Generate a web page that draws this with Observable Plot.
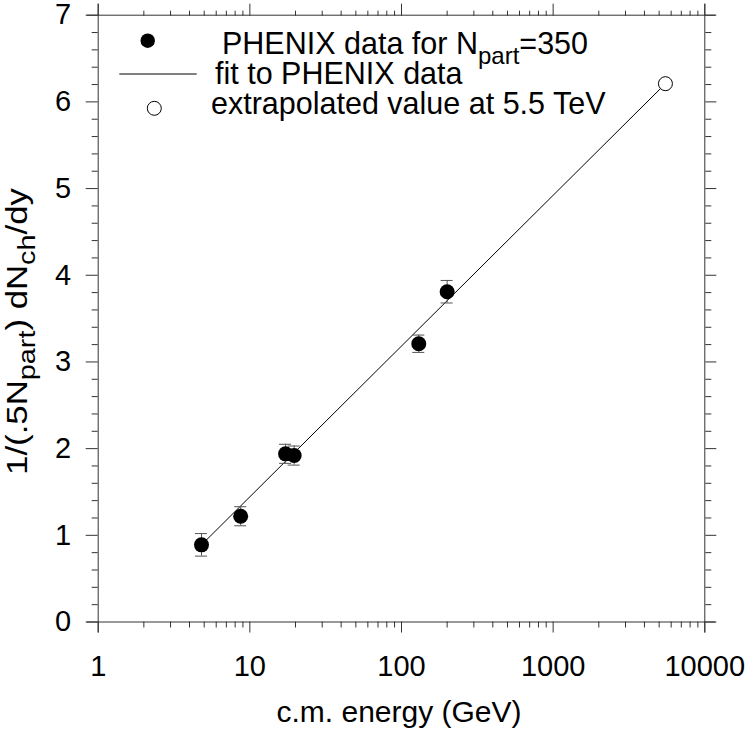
<!DOCTYPE html>
<html><head><meta charset="utf-8">
<script src="https://cdn.jsdelivr.net/npm/d3@7"></script>
<script src="https://cdn.jsdelivr.net/npm/@observablehq/plot@0.6"></script>
<style>body{margin:0;background:#fff;} svg{display:block}</style>
</head><body><div id="chart"></div>
<script>
// ---- data ----
const energy = [4.8, 8.7, 17.2, 19.6, 130, 200];          // sqrt(s) in GeV
const multiplicity = [0.89, 1.22, 1.94, 1.92, 3.21, 3.81];
const errors = [0.13, 0.11, 0.11, 0.11, 0.10, 0.13];
const extrapEnergy = [5500];
const extrapValue = [6.21];
const fitEnergy = [4.8, 5500];
const fitValue = [0.89, 6.21];
const xMajorTicks = [1, 10, 100, 1000, 10000];
const yMajorTicks = [0, 1, 2, 3, 4, 5, 6, 7];
const xDomain = [1, 10000];
const yDomain = [0, 7];

const xMinorTicks = [];
for (const d of [1, 10, 100, 1000]) for (let k = 2; k <= 9; k++) xMinorTicks.push(k * d);
const yMinorTicks = d3.range(0, 7.0001, 0.2).filter(v => Math.abs(v - Math.round(v)) > 1e-6);

const data = energy.map((e, i) => ({x: e, y: multiplicity[i], lo: multiplicity[i] - errors[i], hi: multiplicity[i] + errors[i]}));
const extrap = extrapEnergy.map((e, i) => ({x: e, y: extrapValue[i]}));
const fit = fitEnergy.map((e, i) => ({x: e, y: fitValue[i]}));

const FONT = "'Liberation Sans', Arial, Helvetica, sans-serif";
const ink = "#333";
const errInk = "#555";
const blank = () => "";

const plot = Plot.plot({
  width: 747, height: 732,
  marginLeft: 97.7, marginRight: 42.7, marginTop: 14.7, marginBottom: 110.5,
  x: {type: "log", domain: xDomain, label: null},
  y: {domain: yDomain, label: null},
  style: {fontFamily: FONT, fontSize: "29px", background: "white", color: "black", overflow: "visible"},
  marks: [
    Plot.ruleY(yDomain, {stroke: ink, insetLeft: -11, insetRight: -11}),
    Plot.ruleX(xDomain, {stroke: ink, insetTop: -11, insetBottom: -11}),
    Plot.axisX({anchor: "bottom", ticks: xMajorTicks, tickSize: 11, tickPadding: 22, tickFormat: d => String(d), fontSize: 29, stroke: ink}),
    Plot.axisX({anchor: "bottom", ticks: xMinorTicks, tickSize: 6, tickFormat: blank, stroke: ink}),
    Plot.axisX({anchor: "top", ticks: xMajorTicks, tickSize: 12, tickFormat: blank, stroke: ink}),
    Plot.axisX({anchor: "top", ticks: xMinorTicks, tickSize: 5, tickFormat: blank, stroke: ink}),
    Plot.axisY({anchor: "left", ticks: yMajorTicks, tickSize: 12, tickPadding: 15, tickFormat: d => String(d), fontSize: 29, stroke: ink}),
    Plot.axisY({anchor: "left", ticks: yMinorTicks, tickSize: 6, tickFormat: blank, stroke: ink}),
    Plot.axisY({anchor: "right", ticks: yMajorTicks, tickSize: 11, tickFormat: blank, stroke: ink}),
    Plot.axisY({anchor: "right", ticks: yMinorTicks, tickSize: 6, tickFormat: blank, stroke: ink}),
    Plot.line(fit, {x: "x", y: "y", stroke: "black", strokeWidth: 1}),
    Plot.ruleX(data, {x: "x", y1: "lo", y2: "hi", stroke: errInk}),
    Plot.ruleY(data, {x1: "x", x2: "x", y: "lo", stroke: errInk, insetLeft: -6, insetRight: -6}),
    Plot.ruleY(data, {x1: "x", x2: "x", y: "hi", stroke: errInk, insetLeft: -6, insetRight: -6}),
    Plot.dot(data, {x: "x", y: "y", r: 7.5, fill: "black"}),
    Plot.dot(extrap, {x: "x", y: "y", r: 7, fill: "white", stroke: "black", strokeWidth: 1})
  ]
});

const svg = d3.select(plot);
const g = svg.append("g").attr("font-family", FONT).attr("fill", "black").attr("text-anchor", "start");
// legend
g.append("circle").attr("cx", 147.7).attr("cy", 40.7).attr("r", 7.2).attr("fill", "black");
g.append("line").attr("x1", 119.3).attr("x2", 196.7).attr("y1", 74).attr("y2", 74).attr("stroke", "black");
g.append("circle").attr("cx", 154.3).attr("cy", 108.3).attr("r", 7).attr("fill", "white").attr("stroke", "black");
const t1 = g.append("text").attr("x", 222).attr("y", 54.3).attr("font-size", 30.5).attr("text-anchor", "start");
t1.append("tspan").text("PHENIX data for N");
t1.append("tspan").attr("dy", 10).attr("font-size", 24).text("part");
t1.append("tspan").attr("dy", -10).text("=350");
g.append("text").attr("x", 215).attr("y", 83.5).attr("font-size", 30.5).attr("text-anchor", "start").text("fit to PHENIX data");
g.append("text").attr("x", 211).attr("y", 114.3).attr("font-size", 30.5).attr("text-anchor", "start").text("extrapolated value at 5.5 TeV");
// axis titles
g.append("text").attr("x", 399).attr("y", 721.7).attr("text-anchor", "middle").attr("font-size", 30).text("c.m. energy (GeV)");
const yl = g.append("text").attr("transform", "translate(27,331.5) rotate(-90) scale(1.2,1)").attr("text-anchor", "middle").attr("font-size", 29);
yl.append("tspan").text("1/(.5N");
yl.append("tspan").attr("dy", 8).attr("font-size", 24).text("part");
yl.append("tspan").attr("dy", -8).text(") dN");
yl.append("tspan").attr("dy", 8).attr("font-size", 24).text("ch");
yl.append("tspan").attr("dy", -8).text("/dy");

document.getElementById("chart").appendChild(plot);
</script>
</body></html>
